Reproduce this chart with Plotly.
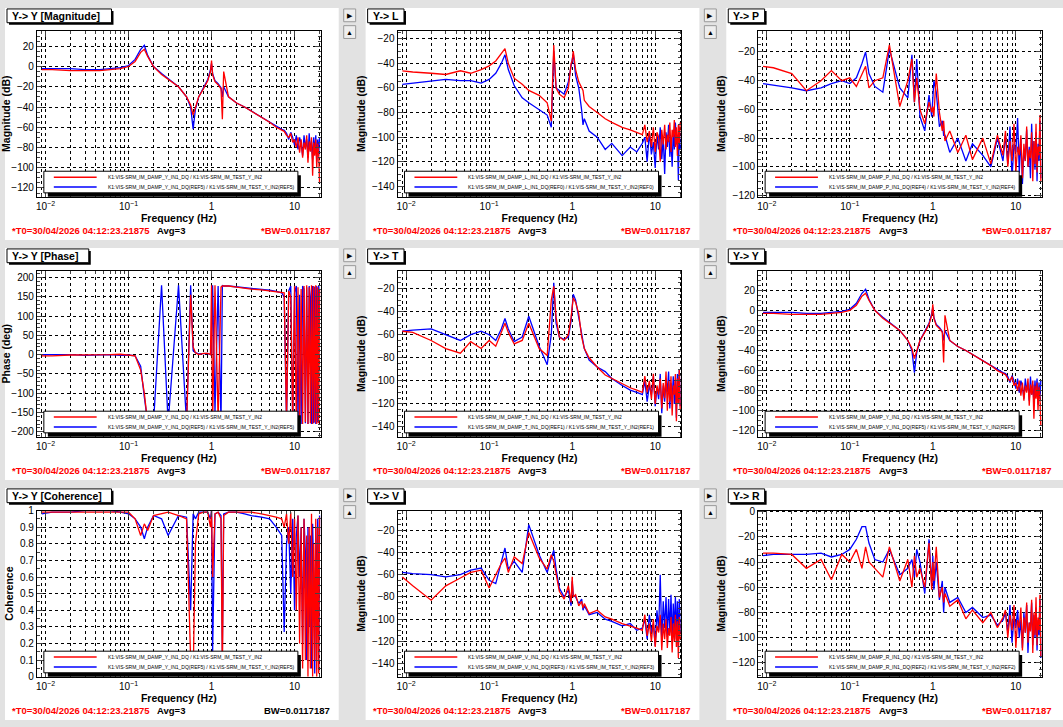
import plotly.graph_objects as go

W, H = 1063, 727
FL = [0.009, 0.012, 0.02, 0.03, 0.045, 0.06, 0.08, 0.1, 0.12, 0.14, 0.155, 0.17, 0.2, 0.25, 0.3, 0.4, 0.5, 0.56, 0.6, 0.64,
      0.7, 0.8, 0.9, 0.97, 1.0, 1.03, 1.1, 1.2, 1.3, 1.35, 1.4, 1.6, 2.0, 2.5, 3.0, 4.0, 5.0, 6.0, 7.0]
FH = [7.5, 8, 8.5, 9, 9.5, 10, 10.5, 11, 11.5, 12, 12.5, 13, 13.5, 14, 14.5, 15, 15.5, 16, 16.5, 17, 17.5, 18, 18.5, 19, 19.5, 20]
FREQ = FL + FH

MAG_Y_RED = [-3, -3, -4, -4, -4, -3, -2, 0, 5, 14, 17, 10, 0, -8, -13, -20, -30, -38, -48, -40, -30, -22, -14, -5, 6, -8, -15, -18, -22, -52, -5, -30, -36, -40, -44, -50, -55, -60, -63,
             -64, -68, -70, -66, -75, -72, -80, -70, -85, -72, -90, -75, -82, -68, -95, -74, -84, -70, -108, -75, -88, -72, -100, -76, -86, -115]
MAG_Y_BLUE = [-2, -2, -2, -3, -3, -2, -1, 1, 7, 17, 21, 11, 0, -7, -12, -20, -30, -40, -62, -42, -30, -21, -13, -3, 3, -7, -14, -17, -21, -30, -20, -30, -36, -40, -44, -50, -55, -59, -62,
              -63, -66, -72, -65, -70, -78, -68, -82, -70, -76, -88, -68, -80, -72, -90, -66, -84, -74, -92, -70, -86, -68, -94, -72, -88, -70]
PH_RED = [-3, -3, -1, -1, 0, 0, 1, -1, -3, -40, -100, -178, -178, -178, -178, -178, -178, 155, 20, 5, 0, 3, 3, 0, 180, -180, 180, -170, 175, 178, 178, 178, 175, 172, 170, 168, 165, 162, 160,
          160, -170, 165, 150, -175, 178, -180, 175, -178, 170, -180, 178, -175, 180, -180, 175, -178, 180, -180, 178, -176, 180, -180, 175, -178, 170]
PH_BLUE = [0, 0, 0, -2, 0, 0, -2, -1, -3, -30, -110, -175, -178, 180, -178, 180, -178, 180, 10, 5, 2, 3, 3, 0, 5, 180, -150, 178, -178, 180, 178, 178, 176, 174, 172, 170, 167, 164, 160,
           150, -178, 165, 178, -180, 160, 178, -175, 155, -180, 178, 170, -178, 175, -180, 178, 150, -180, 178, -178, 176, -180, 178, -176, 180, 150]
COH_RED = [0.99, 0.99, 0.99, 0.99, 0.99, 0.99, 0.99, 0.99, 0.95, 0.85, 0.92, 0.88, 0.97, 0.98, 0.99, 0.97, 0.95, 0.1, 0.0, 0.8, 0.98, 0.99, 0.99, 0.9, 1.0, 0.6, 0.98, 0.99, 0.95, 0.0, 0.97, 0.99, 0.99, 0.99, 0.99, 0.98, 0.97, 0.96, 0.95,
           0.9, 0.98, 0.8, 0.99, 0.6, 0.95, 0.4, 0.97, 0.2, 0.9, 0.05, 0.95, 0.1, 0.85, 0.0, 0.9, 0.05, 0.98, 0.0, 0.8, 0.1, 0.95, 0.0, 0.9, 0.02, 0.96]
COH_BLUE = [0.98, 0.99, 0.99, 1, 1, 1, 0.99, 0.98, 0.95, 0.9, 0.83, 0.9, 0.97, 0.95, 0.85, 0.97, 0.96, 0.4, 0.98, 0.95, 0.99, 0.99, 0.99, 0.95, 1, 0.15, 0.98, 0.99, 0.97, 0.15, 0.98, 0.99, 0.99, 0.98, 0.97, 0.96, 0.95, 0.9, 0.85,
            0.27, 0.8, 0.9, 0.5, 0.95, 0.4, 0.85, 0.97, 0.6, 0.9, 0.2, 0.95, 0.75, 0.1, 0.9, 0.3, 0.85, 0.05, 0.92, 0.6, 0.02, 0.9, 0.4, 0.95, 0.03, 0.97]
L_RED = [-46, -47, -48, -49, -46, -48, -45, -42, -38, -32, -28, -40, -52, -57, -62, -66, -72, -87, -25, -60, -65, -68, -60, -40, -38, -30, -45, -55, -60, -62, -70, -75, -80, -85, -88, -92, -94, -96, -98,
         -90, -104, -95, -108, -92, -112, -96, -100, -120, -94, -106, -90, -110, -98, -104, -88, -112, -94, -100, -86, -108, -92, -115, -90, -105, -88]
L_BLUE = [-57, -56, -54, -53, -54, -54, -56, -53, -48, -40, -33, -45, -58, -68, -72, -78, -82, -92, -30, -60, -62, -65, -55, -40, -35, -32, -50, -60, -78, -90, -85, -95, -100, -110, -105, -115, -108, -112, -105,
          -100, -120, -96, -114, -104, -125, -98, -110, -92, -118, -100, -130, -96, -108, -90, -116, -102, -124, -94, -110, -88, -106, -98, -135, -92, -110]
P_RED = [-30, -31, -35, -47, -40, -33, -40, -38, -44, -36, -30, -45, -40, -38, -15, -58, -40, -25, -55, -38, -60, -70, -55, -62, -58, -65, -35, -62, -75, -68, -82, -75, -90, -78, -95, -80, -98, -78, -92,
         -75, -100, -82, -96, -70, -104, -86, -92, -78, -108, -84, -96, -72, -100, -88, -94, -76, -110, -82, -98, -70, -104, -86, -92, -64, -110]
P_BLUE = [-42, -43, -45, -47, -45, -42, -40, -42, -38, -28, -20, -35, -44, -48, -18, -45, -52, -22, -55, -25, -65, -75, -50, -65, -55, -40, -48, -72, -68, -78, -78, -90, -80, -96, -84, -92, -100, -80, -96,
          -78, -98, -72, -108, -84, -90, -66, -104, -80, -112, -88, -96, -74, -100, -86, -108, -70, -94, -82, -102, -76, -110, -84, -96, -68, -108]
T_RED = [-57, -58, -65, -72, -76, -66, -72, -65, -70, -58, -50, -58, -68, -65, -50, -72, -78, -30, -18, -45, -62, -65, -60, -45, -35, -28, -32, -42, -62, -68, -72, -80, -88, -95, -98, -102, -106, -108, -110,
         -96, -110, -100, -116, -94, -120, -104, -112, -98, -124, -102, -115, -92, -126, -100, -118, -96, -130, -104, -112, -94, -135, -98, -120, -90, -125]
T_BLUE = [-57, -56, -55, -60, -65, -60, -57, -60, -65, -55, -46, -55, -66, -62, -44, -70, -86, -60, -15, -50, -62, -64, -62, -48, -38, -25, -30, -45, -62, -68, -72, -82, -88, -92, -98, -104, -108, -110, -112,
          -100, -118, -104, -112, -96, -122, -106, -116, -94, -128, -104, -118, -98, -110, -92, -124, -102, -116, -96, -120, -100, -132, -94, -118, -90, -122]
V_RED = [-62, -70, -83, -70, -63, -58, -56, -72, -60, -50, -45, -58, -44, -50, -22, -45, -55, -42, -48, -60, -75, -82, -70, -85, -62, -80, -78, -88, -84, -90, -86, -95, -92, -98, -100, -104, -106, -108, -110,
         -96, -115, -104, -120, -100, -125, -106, -112, -96, -128, -104, -118, -100, -126, -108, -115, -98, -130, -104, -120, -96, -125, -102, -135, -98, -118]
V_BLUE = [-58, -59, -60, -62, -60, -56, -54, -65, -68, -48, -36, -55, -48, -58, -15, -42, -58, -45, -38, -55, -72, -80, -74, -88, -66, -78, -80, -86, -82, -92, -88, -96, -94, -100, -102, -106, -104, -110, -108,
          -100, -118, -96, -112, -104, -124, -92, -110, -60, -120, -84, -108, -80, -116, -82, -112, -78, -120, -86, -110, -80, -118, -84, -125, -82, -112]
R_RED = [-33, -33, -34, -45, -38, -54, -34, -40, -30, -45, -28, -40, -45, -52, -28, -55, -38, -60, -35, -52, -45, -60, -25, -62, -40, -55, -28, -68, -60, -72, -65, -75, -70, -85, -78, -88, -80, -92, -84,
         -78, -100, -82, -94, -74, -108, -86, -92, -76, -110, -84, -96, -72, -104, -88, -95, -70, -112, -80, -98, -68, -106, -84, -94, -66, -115]
R_BLUE = [-35, -34, -34, -34, -33, -36, -34, -30, -22, -12, -12, -25, -38, -40, -30, -50, -45, -38, -52, -30, -40, -65, -22, -58, -35, -62, -40, -70, -55, -80, -60, -72, -68, -80, -76, -84, -82, -90, -86,
          -80, -96, -74, -104, -84, -92, -78, -100, -86, -108, -80, -96, -74, -112, -88, -94, -72, -106, -82, -100, -76, -110, -86, -98, -70, -116]

for arr in [MAG_Y_RED, MAG_Y_BLUE, PH_RED, PH_BLUE, COH_RED, COH_BLUE, L_RED, L_BLUE, P_RED, P_BLUE,
            T_RED, T_BLUE, V_RED, V_BLUE, R_RED, R_BLUE]:
    assert len(arr) == len(FREQ), len(arr)

CH = "K1:VIS-SRM_IM_DAMP_{}_IN1_DQ"
EXC = "K1:VIS-SRM_IM_TEST_Y_IN2"
PANELS = [
    ("Y-> Y [Magnitude]", MAG_Y_RED, MAG_Y_BLUE, [-128.7, 35.5], 20, "Magnitude (dB)", "Y", "REF5"),
    ("Y-> L", L_RED, L_BLUE, [-148.5, -13.3], 20, "Magnitude (dB)", "L", "REF0"),
    ("Y-> P", P_RED, P_BLUE, [-120.9, -5.1], 20, "Magnitude (dB)", "P", "REF4"),
    ("Y-> Y [Phase]", PH_RED, PH_BLUE, [-213, 218], 50, "Phase (deg)", "Y", "REF5"),
    ("Y-> T", T_RED, T_BLUE, [-148.5, -4.4], 20, "Magnitude (dB)", "T", "REF1"),
    ("Y-> Y", MAG_Y_RED, MAG_Y_BLUE, [-125.9, 39.6], 20, "Magnitude (dB)", "Y", "REF5"),
    ("Y-> Y [Coherence]", COH_RED, COH_BLUE, [0, 1], 0.1, "Coherence", "Y", "REF5"),
    ("Y-> V", V_RED, V_BLUE, [-151.8, -2.3], 20, "Magnitude (dB)", "V", "REF3"),
    ("Y-> R", R_RED, R_BLUE, [-130.9, 0.8], 20, "Magnitude (dB)", "R", "REF2"),
]

def px(x): return x / W
def py(y): return 1 - y / H

OX = [0, 362, 724]
OY = [0, 244, 488]
minor_x = [m * 10 ** e for e in (-3, -2, -1, 0, 1) for m in range(2, 10)]
FONT = "Liberation Sans"

fig = go.Figure()
shapes, annos = [], []
layout = {}
for i, (title, red, blue, yr, dt, ytitle, dof, ref) in enumerate(PANELS):
    r, c = divmod(i, 3)
    ox, oy = OX[c], OY[r]
    n = "" if i == 0 else str(i + 1)
    right = 336 if c < 2 else 339
    shapes.append(dict(type="rect", xref="paper", yref="paper", x0=px(ox + 1), x1=px(ox + right),
                       y0=py(oy + 238), y1=py(oy + 2), fillcolor="white", line=dict(width=0), layer="below"))
    if c < 2:
        for by, sym in ((3, "▶"), (20, "▲")):
            shapes.append(dict(type="rect", xref="paper", yref="paper", x0=px(ox + 341), x1=px(ox + 353),
                               y0=py(oy + by + 13), y1=py(oy + by), fillcolor="#eeeeee", line=dict(color="#999999", width=1)))
            annos.append(dict(x=px(ox + 347), y=py(oy + by + 6.5), xref="paper", yref="paper", text=sym, showarrow=False,
                              font=dict(size=7, color="black"), xanchor="center", yanchor="middle"))
    layout["xaxis" + n] = dict(domain=[px(ox + 33), px(ox + 318)], anchor="y" + n, type="log",
                               range=[-2.104, 1.316], tickvals=[0.01, 0.1, 1, 10],
                               ticktext=["10<sup>−2</sup>", "10<sup>−1</sup>", "1", "10"],
                               ticks="inside", ticklen=6, showline=True, mirror="ticks", linecolor="black", linewidth=1,
                               showgrid=True, gridcolor="black", griddash="dot", gridwidth=1,
                               minor=dict(tickvals=minor_x, ticks="inside", ticklen=3, showgrid=True,
                                          gridcolor="black", griddash="dot", gridwidth=1),
                               tickfont=dict(family=FONT, size=10, color="black"), zeroline=False,
                               title=dict(text="<b>Frequency (Hz)</b>", font=dict(family=FONT, size=10.5, color="black"), standoff=3))
    ya = dict(domain=[py(oy + 194), py(oy + 25)], anchor="x" + n, range=yr, dtick=dt,
              ticks="inside", ticklen=6, showline=True, mirror="ticks", linecolor="black", linewidth=1,
              showgrid=True, gridcolor="black", griddash="dot", gridwidth=1, zeroline=False,
              minor=dict(ticks="inside", ticklen=3, nticks=5),
              tickfont=dict(family=FONT, size=10, color="black"),
              title=dict(text="<b>%s</b>" % ytitle, font=dict(family=FONT, size=10.5, color="black"), standoff=4))
    if dt == 0.1:
        ya["tickvals"] = [0, 0.1, 0.2, 0.3, 0.4, 0.5, 0.6, 0.7, 0.8, 0.9, 1]
        ya["ticktext"] = ["0", "0.1", "0.2", "0.3", "0.4", "0.5", "0.6", "0.7", "0.8", "0.9", "1"]
    layout["yaxis" + n] = ya
    for vals, col in ((blue, "blue"), (red, "red")):
        fig.add_trace(go.Scatter(x=FREQ, y=vals, mode="lines", line=dict(color=col, width=1.3),
                                 xaxis="x" + n, yaxis="y" + n, showlegend=False))
    tw = 8 + 5.7 * len(title)
    shapes.append(dict(type="rect", xref="paper", yref="paper", x0=px(ox + 5), x1=px(ox + 5 + tw),
                       y0=py(oy + 19), y1=py(oy + 5), fillcolor="black", line=dict(width=0)))
    shapes.append(dict(type="rect", xref="paper", yref="paper", x0=px(ox + 3), x1=px(ox + 3 + tw),
                       y0=py(oy + 17), y1=py(oy + 3), fillcolor="white", line=dict(color="black", width=1)))
    annos.append(dict(x=px(ox + 6), y=py(oy + 10), xref="paper", yref="paper", text="<b>%s</b>" % title,
                      showarrow=False, xanchor="left", yanchor="middle", font=dict(family=FONT, size=10.5, color="black")))
    shapes.append(dict(type="rect", xref="paper", yref="paper", x0=px(ox + 44), x1=px(ox + 298),
                       y0=py(oy + 194), y1=py(oy + 172), fillcolor="black", line=dict(width=0)))
    shapes.append(dict(type="rect", xref="paper", yref="paper", x0=px(ox + 40), x1=px(ox + 295),
                       y0=py(oy + 190), y1=py(oy + 168), fillcolor="white", line=dict(color="black", width=1)))
    ch = CH.format(dof)
    for ly, col, txt in ((174, "red", "%s / %s" % (ch, EXC)),
                         (184, "blue", "%s(%s) / %s(%s)" % (ch, ref, EXC, ref))):
        shapes.append(dict(type="line", xref="paper", yref="paper", x0=px(ox + 50), x1=px(ox + 93),
                           y0=py(oy + ly), y1=py(oy + ly), line=dict(color=col, width=1.5)))
        annos.append(dict(x=px(ox + 102), y=py(oy + ly), xref="paper", yref="paper", text=txt, showarrow=False,
                          xanchor="left", yanchor="middle", font=dict(family=FONT, size=5, color="black")))
    bwcol = "black" if "Coherence" in title else "red"
    bwtxt = "BW=0.0117187" if "Coherence" in title else "*BW=0.0117187"
    annos.append(dict(x=px(ox + 6), y=py(oy + 228), xref="paper", yref="paper", text="<b>*T0=30/04/2026 04:12:23.21875</b>",
                      showarrow=False, xanchor="left", yanchor="middle", font=dict(family=FONT, size=9.5, color="red")))
    annos.append(dict(x=px(ox + 168), y=py(oy + 228), xref="paper", yref="paper", text="<b>Avg=3</b>",
                      showarrow=False, xanchor="center", yanchor="middle", font=dict(family=FONT, size=9.5, color="black")))
    annos.append(dict(x=px(ox + 329), y=py(oy + 228), xref="paper", yref="paper", text="<b>%s</b>" % bwtxt,
                      showarrow=False, xanchor="right", yanchor="middle", font=dict(family=FONT, size=9.5, color=bwcol)))

fig.update_layout(width=W, height=H, margin=dict(l=0, r=0, t=0, b=0), paper_bgcolor="#e2e2e2",
                  plot_bgcolor="white", shapes=shapes, annotations=annos, font=dict(family=FONT), **layout)
fig.write_html("out.html", config={"displayModeBar": False})
with open("out.html", encoding="utf-8") as f:
    html = f.read()
html = html.replace("<body>", '<body style="margin:0;padding:0;overflow:hidden">', 1)
with open("out.html", "w", encoding="utf-8") as f:
    f.write(html)
